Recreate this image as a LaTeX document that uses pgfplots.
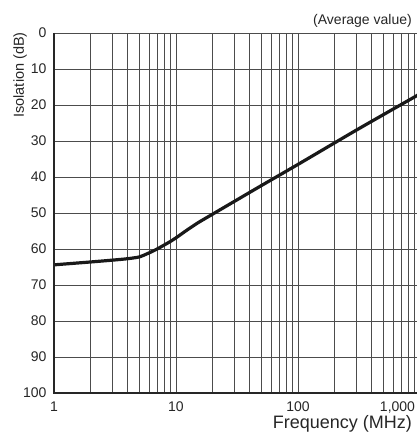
\documentclass[border=0pt]{standalone}
\usepackage{pgfplots}
\pgfplotsset{compat=1.18}
\usepackage{fontspec}
\setmainfont{Liberation Sans}

\pgfplotstableread{
f     iso
1     64.4
2     63.6
3     63.1
4     62.7
5     62.2
6     61.1
7     60.0
8     58.9
9     57.9
10    56.9
12    55.0
15    52.8
20    50.3
30    46.8
50    42.4
100   36.5
200   30.5
300   27.0
500   22.7
1000  16.9
}\isodata

\begin{document}
\begin{tikzpicture}
\useasboundingbox (-54bp,-46bp) rectangle (363bp,393bp);
\begin{axis}[
    name=ax,
    at={(0,0)}, anchor=south west,
    width=366bp, height=360bp, scale only axis,
    xmode=log, log basis x=10,
    xmin=1, xmax=1000,
    ymin=0, ymax=100, y dir=reverse,
    ytick={0,10,...,100},
    xtick={1,10,100,1000},
    minor xtick={2,3,4,5,6,7,8,9,20,30,40,50,60,70,80,90,200,300,400,500,600,700,800,900},
    xticklabels={1,10,100,{\makebox[0pt][r]{1,000\hspace{5bp}}}},
    major tick length=0pt, minor tick length=0pt,
    grid=both,
    major grid style={line width=0.6bp, black!70},
    minor grid style={line width=0.6bp, black!70},
    axis line style={line width=0.6bp, black!70},
    /pgf/number format/assume math mode=true,
    tick label style={font=\fontsize{14bp}{16bp}\selectfont, black!85},
    yticklabel style={xshift=-4bp},
    xticklabel style={yshift=-5bp},
]
\addplot[line width=3.2bp, black!90, smooth, tension=0.4] table[x=f, y=iso] {\isodata};
\end{axis}
\draw[line width=1.5bp, black!85] (ax.north west) -- (ax.south west) -- (ax.south east);
\node[rotate=90, anchor=south east, inner sep=0pt, font=\fontsize{14.5bp}{16bp}\selectfont, black!85]
    at ([xshift=-27bp,yshift=1bp]ax.north west) {Isolation (dB)};
\node[anchor=base east, inner sep=0pt, font=\fontsize{18bp}{20bp}\selectfont, black!85]
    at ([xshift=358bp,yshift=-35bp]ax.south west) {Frequency (MHz)};
\node[anchor=base east, inner sep=0pt, font=\fontsize{14bp}{16bp}\selectfont, black!85]
    at ([xshift=358bp,yshift=8bp]ax.north west) {(Average value)};
\end{tikzpicture}
\end{document}
